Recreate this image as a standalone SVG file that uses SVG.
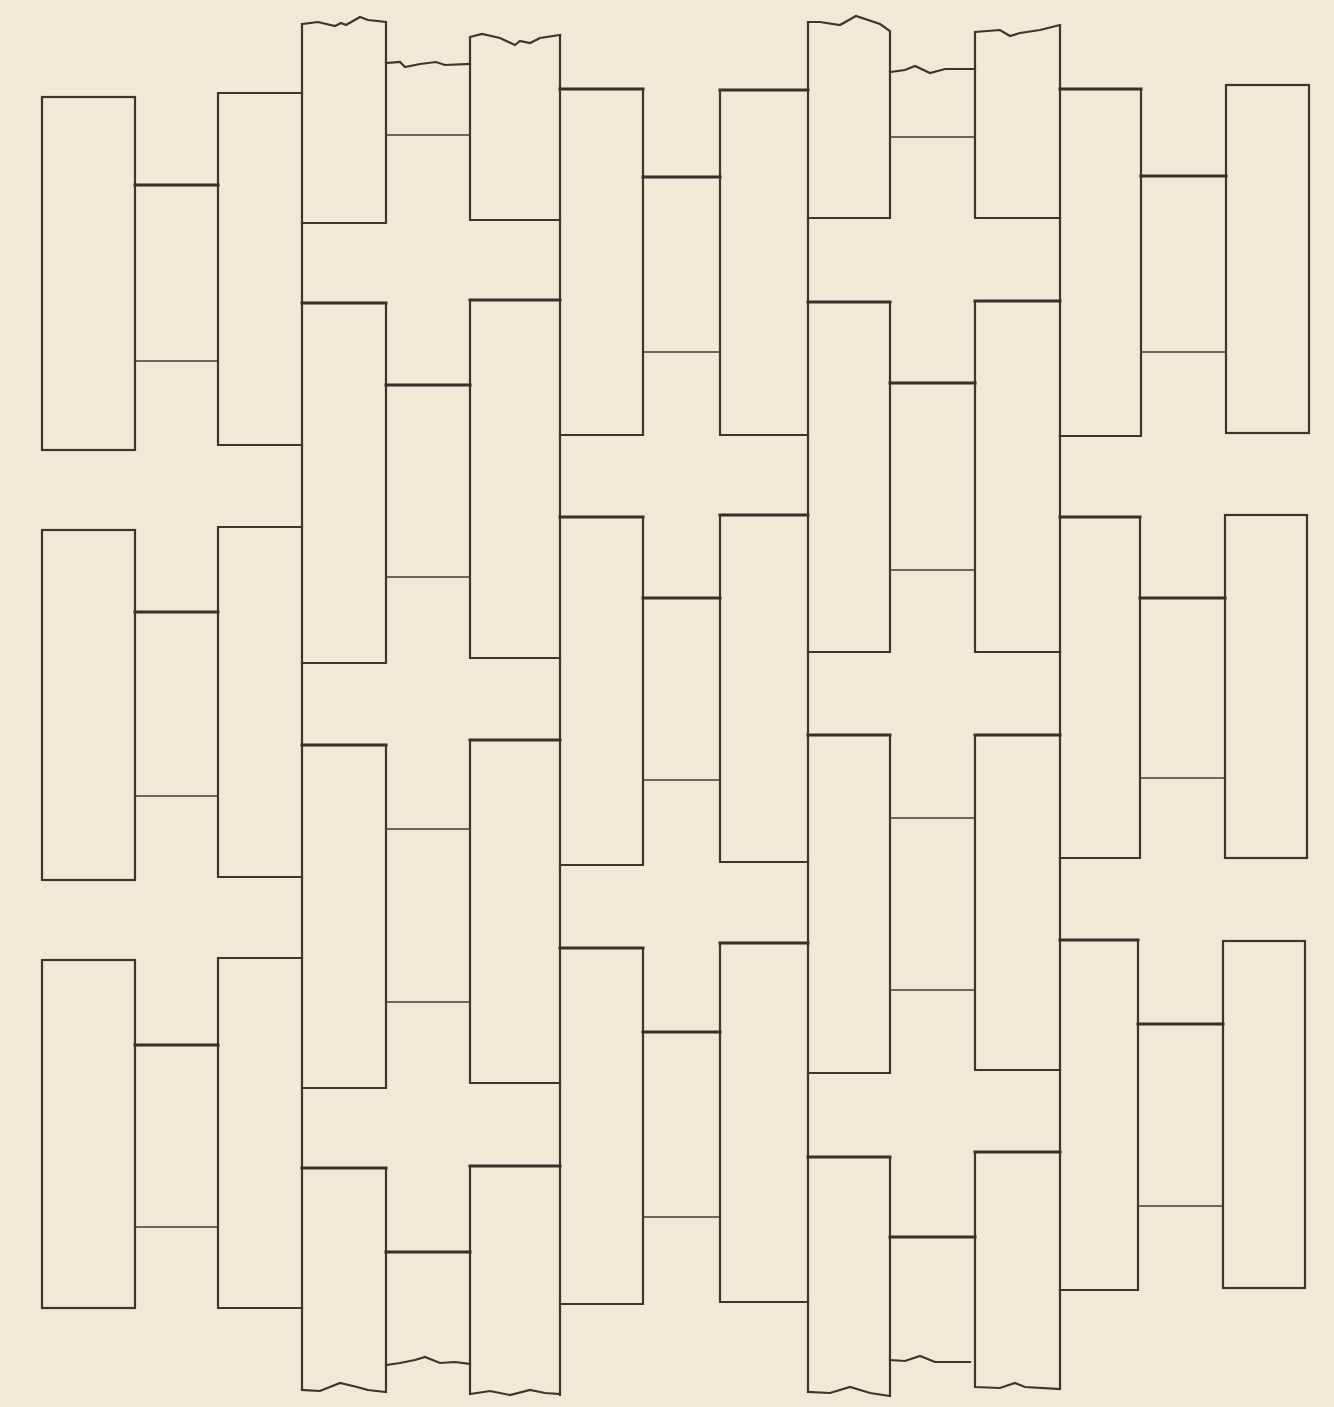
<svg xmlns="http://www.w3.org/2000/svg" width="1334" height="1407" viewBox="0 0 1334 1407">
<style>
.s{fill:none;stroke:#3a372f;stroke-width:2.2;stroke-linejoin:miter;stroke-linecap:square}
.k{fill:none;stroke:#34312a;stroke-width:3;stroke-linecap:square}
.t{fill:none;stroke:#423e36;stroke-width:1.6;stroke-linecap:square}
</style>
<rect x="0" y="0" width="1334" height="1407" fill="#f0e9d5"/>
<g id="group-left">
<rect class="s" x="42" y="97" width="93" height="353"/>
<rect class="s" x="42" y="530" width="93" height="350"/>
<rect class="s" x="42" y="960" width="93" height="348"/>
<path class="s" d="M302,93 H218 V445 H302"/>
<path class="s" d="M302,527 H218 V877 H302"/>
<path class="s" d="M302,958 H218 V1308 H302"/>
<path class="k" d="M135,185 H218 M135,612 H218 M135,1045 H218"/>
<path class="t" d="M135,361 H218 M135,796 H218 M135,1227 H218"/>
</g>
<g id="group-def">
<path class="s" d="M302,24 V1390"/>
<path class="s" d="M560,35 V1395"/>
<path class="s" d="M302,24 L318,22 L335,26 L341,23 L346,25 L360,17 L368,20 L386,22 V223 H302"/>
<path class="k" d="M302,303 H386"/>
<path class="s" d="M386,303 V663 H302"/>
<path class="k" d="M302,745 H386"/>
<path class="s" d="M386,745 V1088 H302"/>
<path class="k" d="M302,1168 H386"/>
<path class="s" d="M386,1168 V1392 L368,1390 L357,1387 L340,1383 L320,1391 L302,1390"/>
<path class="s" d="M560,35 L540,38 L530,43 L520,41 L515,45 L500,38 L482,34 L470,37 V220 H560"/>
<path class="k" d="M560,300 H470"/>
<path class="s" d="M470,300 V658 H560"/>
<path class="k" d="M560,740 H470"/>
<path class="s" d="M470,740 V1083 H560"/>
<path class="k" d="M560,1166 H470"/>
<path class="s" d="M470,1166 V1394 L490,1391 L510,1395 L530,1390 L545,1393 L560,1394"/>
<path class="s" d="M386,63 L400,62 L405,67 L420,64 L436,62 L445,65 L470,64"/>
<path class="t" d="M386,135 H470 M386,577 H470 M386,829 H470 M386,1002 H470"/>
<path class="k" d="M386,385 H470 M386,1252 H470"/>
<path class="s" d="M386,1365 L400,1363 L415,1360 L425,1357 L440,1363 L455,1362 L470,1364"/>
</g>
<g id="group-ghi">
<path class="k" d="M560,89 H643"/>
<path class="s" d="M643,89 V435 H560"/>
<path class="k" d="M560,517 H643"/>
<path class="s" d="M643,517 V865 H560"/>
<path class="k" d="M560,948 H643"/>
<path class="s" d="M643,948 V1304 H560"/>
<path class="k" d="M808,90 H720"/>
<path class="s" d="M720,90 V435 H808"/>
<path class="k" d="M808,515 H720"/>
<path class="s" d="M720,515 V862 H808"/>
<path class="k" d="M808,943 H720"/>
<path class="s" d="M720,943 V1302 H808"/>
<path class="k" d="M643,177 H720 M643,598 H720 M643,1032 H720"/>
<path class="t" d="M643,352 H720 M643,780 H720 M643,1217 H720"/>
</g>
<g id="group-jkl">
<path class="s" d="M808,22 V1392"/>
<path class="s" d="M1060,27 V1388"/>
<path class="s" d="M808,22 L820,22 L840,25 L856,16 L880,24 L890,31 V218 H808"/>
<path class="k" d="M808,302 H890"/>
<path class="s" d="M890,302 V652 H808"/>
<path class="k" d="M808,735 H890"/>
<path class="s" d="M890,735 V1073 H808"/>
<path class="k" d="M808,1157 H890"/>
<path class="s" d="M890,1157 V1396 L870,1393 L850,1387 L830,1393 L808,1392"/>
<path class="s" d="M1060,25 L1040,30 L1020,33 L1010,36 L1000,30 L975,32 V218 H1060"/>
<path class="k" d="M1060,301 H975"/>
<path class="s" d="M975,301 V652 H1060"/>
<path class="k" d="M1060,735 H975"/>
<path class="s" d="M975,735 V1070 H1060"/>
<path class="k" d="M1060,1152 H975"/>
<path class="s" d="M975,1152 V1387 L1000,1388 L1015,1383 L1025,1387 L1060,1389"/>
<path class="s" d="M890,72 L905,70 L915,66 L930,73 L945,69 L975,69"/>
<path class="t" d="M890,137 H975 M890,570 H975 M890,818 H975 M890,990 H975"/>
<path class="k" d="M890,383 H975 M890,1237 H975"/>
<path class="s" d="M890,1360 L905,1361 L920,1356 L935,1362 L970,1362"/>
</g>
<g id="group-right">
<path class="k" d="M1060,89 H1141"/>
<path class="s" d="M1141,89 V436 H1060"/>
<path class="k" d="M1060,517 H1140"/>
<path class="s" d="M1140,517 V858 H1060"/>
<path class="k" d="M1060,940 H1138"/>
<path class="s" d="M1138,940 V1290 H1060"/>
<rect class="s" x="1226" y="85" width="83" height="348"/>
<rect class="s" x="1225" y="515" width="82" height="343"/>
<rect class="s" x="1223" y="941" width="82" height="347"/>
<path class="k" d="M1141,176 H1226 M1140,598 H1225 M1138,1024 H1223"/>
<path class="t" d="M1141,352 H1226 M1140,778 H1225 M1138,1206 H1223"/>
</g>
</svg>
